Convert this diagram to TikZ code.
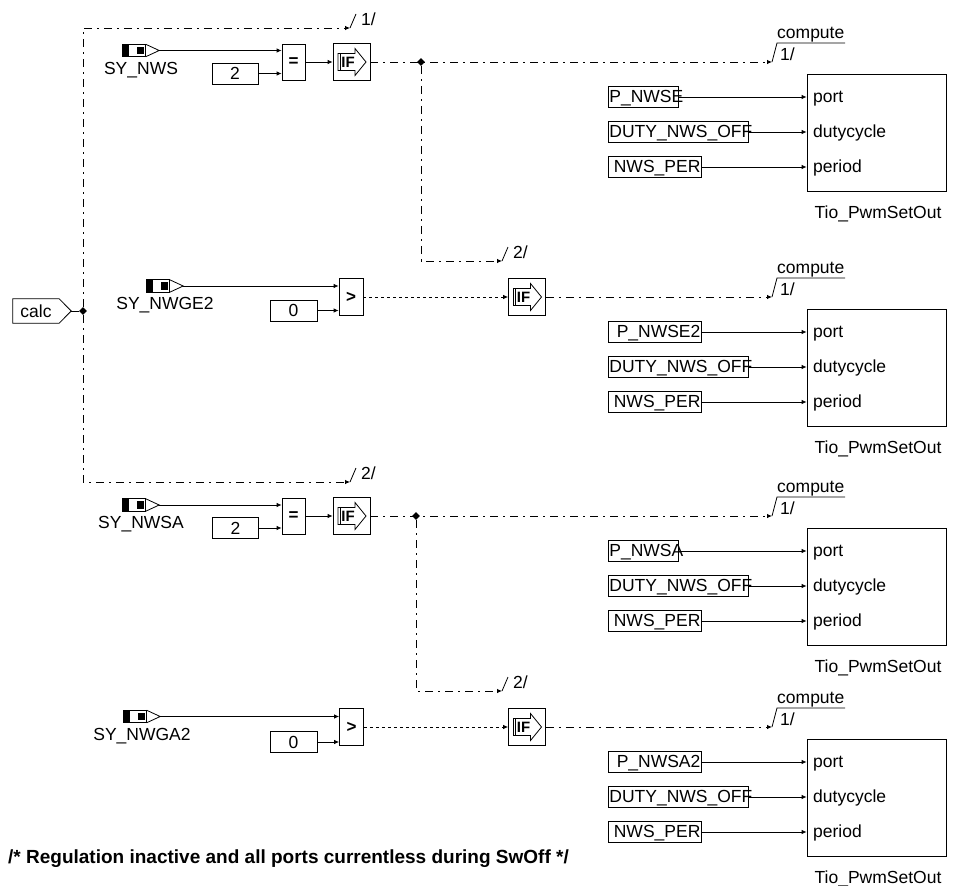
\documentclass[tikz,border=0pt]{standalone}
\usepackage{fontspec}
\setmainfont{Liberation Sans}
\usepackage{tikz}
\usetikzlibrary{positioning,arrows.meta,shapes.geometric}

% message input symbol with its name below
\newcommand{\msgsym}[3]{%
	\node[symnode] (#1) at (#2) {};
	\draw[wire] (#1.north west) rectangle ([xshift=23pt]#1.south west);
	\fill (#1.north west) rectangle ([xshift=6pt]#1.south west);
	\fill ([xshift=14pt,yshift=-2.5pt]#1.north west) rectangle ([xshift=21pt,yshift=2.5pt]#1.south west);
	\draw[wire] ([xshift=23pt]#1.north west) -- (#1.east) -- ([xshift=23pt]#1.south west);
	\node[below=5pt of #1, inner sep=0pt] (#1-lbl) {#3};}
% arrow icon of an IF block
\newcommand{\ificon}[1]{%
	\draw[wire, shift={(#1.center)}] (-13.5pt,8.5pt) -- (3.5pt,8.5pt) -- (3.5pt,13.5pt) -- (14.5pt,0pt)
		-- (3.5pt,-13.5pt) -- (3.5pt,-8.5pt) -- (-13.5pt,-8.5pt) -- cycle;
	\draw[wire] ([shift={(-11.5pt,8.5pt)}]#1.center) -- ([shift={(-11.5pt,-8.5pt)}]#1.center);
	\node[inner sep=0pt, font=\fontsize{15}{15}\selectfont\bfseries] (#1-txt) at ([xshift=-3.5pt]#1.center) {IF};}
% branch tag after a control arrow
\newcommand{\branchtag}[2]{%
	\draw[wire] (#1) -- ([shift={(6pt,14pt)}]#1);
	\node[anchor=base west, inner sep=0pt] (#1-lbl) at ([shift={(11pt,3pt)}]#1) {#2};}
% compute call of Tio_PwmSetOut
\newcommand{\pwmblock}[4]{%
	\coordinate (#1-in) at (772,#2);
	\draw[wire] (#1-in) -- ([shift={(5pt,19pt)}]#1-in) -- ([shift={(73pt,19pt)}]#1-in);
	\node[anchor=base west, inner sep=0pt] (#1-cmp) at ([shift={(5pt,24pt)}]#1-in) {compute};
	\node[anchor=base west, inner sep=0pt] (#1-num) at ([shift={(8pt,2pt)}]#1-in) {1/};
	\node[tiobox] (#1) at (876.5,#2+70.5) {};
	\node[parbox, text width=#4pt, anchor=west] (#1-p) at (608,#2+35) {#3};
	\node[parbox, text width=138pt, anchor=west] (#1-d) at (608,#2+70) {DUTY\_NWS\_OFF};
	\node[parbox, text width=91pt, anchor=west] (#1-r) at (608,#2+105) {NWS\_PER};
	\node[anchor=base west, inner sep=0pt] (#1-pl) at (813,#2+40) {port};
	\node[anchor=base west, inner sep=0pt] (#1-dl) at (813,#2+75) {dutycycle};
	\node[anchor=base west, inner sep=0pt] (#1-rl) at (813,#2+110) {period};
	\draw[sig] (#1-p.east) -- (#1-p.east -| #1.west);
	\draw[sig] (#1-d.east) -- (#1-d.east -| #1.west);
	\draw[sig] (#1-r.east) -- (#1-r.east -| #1.west);
	\node[anchor=base, inner sep=0pt] (#1-name) at (878,#2+156) {Tio\_PwmSetOut};}

\begin{document}
\begin{tikzpicture}[x=1pt, y=-1pt,
		font=\fontsize{17.5}{20}\selectfont,
		wire/.style={line width=0.8pt},
		sig/.style={wire, -{Latex[length=5pt,width=4.5pt]}},
		ctrl/.style={sig, dash pattern=on 8pt off 5pt on 2pt off 5pt},
		cond/.style={sig, dash pattern=on 3pt off 3pt},
		blk/.style={draw, wire, inner sep=0pt},
		cbox/.style={blk, minimum width=46pt, minimum height=21pt},
		opbox/.style={blk, minimum width=24pt, minimum height=37pt, font=\fontsize{17}{20}\selectfont\bfseries},
		ifbox/.style={blk, minimum width=37pt, minimum height=37pt},
		jdot/.style={diamond, fill, inner sep=0pt, minimum size=8pt},
		symnode/.style={inner sep=0pt, minimum width=36pt, minimum height=12pt},
		parbox/.style={blk, inner xsep=1pt, inner ysep=2pt, text height=14pt, text depth=3pt, align=right},
		tiobox/.style={blk, minimum width=139pt, minimum height=117pt}]
	\useasboundingbox (0,0) rectangle (956,886);

	% trigger
	\node[inner sep=0pt, minimum width=46pt, minimum height=24pt] (calc) at (36,311) {calc};
	\coordinate (calc-tip) at ([xshift=12pt]calc.east);
	\draw[wire] (calc.north west) -- (calc.north east) -- (calc-tip) -- (calc.south east)
		-- (calc.south west) -- cycle;
	\node[jdot] (jc) at (83,311) {};
	\draw[wire] (calc-tip) -- (jc);
	\coordinate (t1) at (350,28);
	\coordinate (t3) at (350,482);
	\draw[ctrl] (jc) |- (t1);
	\draw[ctrl] (jc) |- (t3);
	\branchtag{t1}{1/}
	\branchtag{t3}{2/}

	% SY_NWS == 2
	\msgsym{sy1}{141,50.5}{SY\_NWS}
	\node[cbox] (c1) at (235,73.5) {2};
	\node[opbox, minimum width=23pt, minimum height=36pt] (eq1) at (293.5,62) {=};
	\node[ifbox] (if1) at (351.5,62) {};
	\ificon{if1}
	\draw[sig] (sy1.east) -- (sy1.east -| eq1.west);
	\draw[sig] (c1.east) -- (c1.east -| eq1.west);
	\draw[sig] (eq1) -- (if1);
	\node[jdot] (j1) at (421,62) {};
	\coordinate (t2) at (502,261);
	\draw[ctrl] (j1) |- (t2);
	\branchtag{t2}{2/}

	% SY_NWGE2 > 0
	\msgsym{sy2}{165,286}{SY\_NWGE2}
	\node[cbox, minimum width=47pt] (c2) at (293.5,310.5) {0};
	\node[opbox] (gt2) at (351,297) {>};
	\node[ifbox] (if2) at (527,297) {};
	\ificon{if2}
	\draw[sig] (sy2.east) -- (sy2.east -| gt2.west);
	\draw[sig] (c2.east) -- (c2.east -| gt2.west);
	\draw[cond] (gt2) -- (if2);

	% SY_NWSA == 2
	\msgsym{sy3}{141,505}{SY\_NWSA}
	\node[cbox] (c3) at (235.5,528) {2};
	\node[opbox, minimum width=23pt, minimum height=36pt] (eq3) at (293.5,516) {=};
	\node[ifbox] (if3) at (351.5,516) {};
	\ificon{if3}
	\draw[sig] (sy3.east) -- (sy3.east -| eq3.west);
	\draw[sig] (c3.east) -- (c3.east -| eq3.west);
	\draw[sig] (eq3) -- (if3);
	\node[jdot] (j3) at (416,516) {};
	\coordinate (t4) at (502,691);
	\draw[ctrl] (j3) |- (t4);
	\branchtag{t4}{2/}

	% SY_NWGA2 > 0
	\msgsym{sy4}{142,716.5}{SY\_NWGA2}
	\node[cbox, minimum width=47pt] (c4) at (293.5,742) {0};
	\node[opbox] (gt4) at (351.5,727) {>};
	\node[ifbox] (if4) at (527,727) {};
	\ificon{if4}
	\draw[sig] (sy4.east) -- (sy4.east -| gt4.west);
	\draw[sig] (c4.east) -- (c4.east -| gt4.west);
	\draw[cond] (gt4) -- (if4);

	% PWM outputs
	\pwmblock{pwm1}{62}{P\_NWSE}{68}
	\pwmblock{pwm2}{297}{P\_NWSE2}{91}
	\pwmblock{pwm3}{516}{P\_NWSA}{68}
	\pwmblock{pwm4}{727}{P\_NWSA2}{91}
	\draw[ctrl] (if1) -- (pwm1-in);
	\draw[ctrl] (if2) -- (pwm2-in);
	\draw[ctrl] (if3) -- (pwm3-in);
	\draw[ctrl] (if4) -- (pwm4-in);

	\node[anchor=base west, inner sep=0pt, font=\fontsize{19}{22}\selectfont\bfseries] (note)
		at (8,863) {/* Regulation inactive and all ports currentless during SwOff */};
\end{tikzpicture}
\end{document}
